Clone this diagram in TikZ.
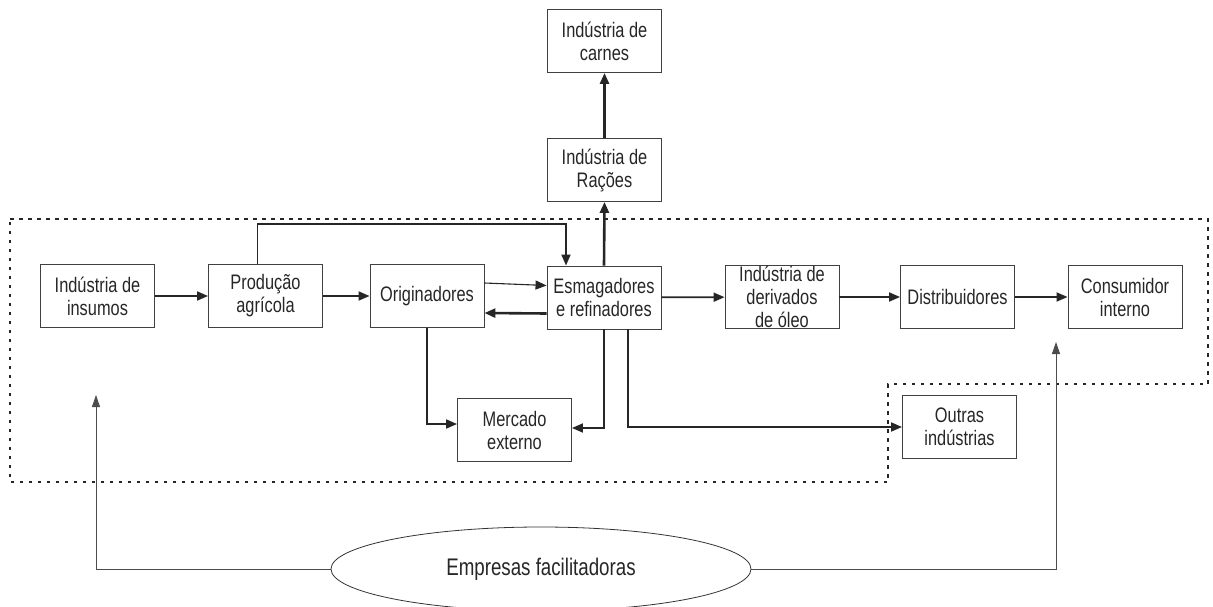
\documentclass[tikz,border=0pt]{standalone}
\usepackage{fontspec}
\setmainfont{Liberation Sans}[FakeStretch=0.78]
\usepackage{xcolor}
\usetikzlibrary{arrows.meta, positioning, shapes.geometric}

\begin{document}
\begin{tikzpicture}[
  x=1pt, y=-1pt,
  font=\fontsize{21}{23}\selectfont,
  color=black!85,
  box/.style={
    rectangle,
    draw=black!75,
    line width=0.9pt,
    minimum width=114pt,
    minimum height=63pt,
    inner sep=1pt,
    align=center
  },
  flow/.style={
    -{Triangle[length=11pt,width=9pt]},
    line width=1.8pt
  },
  heavy/.style={
    flow,
    line width=2.6pt
  },
  light/.style={
    flow,
    line width=1.1pt
  },
  link/.style={
    -{Triangle[length=12pt,width=8pt]},
    line width=0.9pt,
    draw=black!70
  },
  border/.style={
    line width=2.6pt,
    dash pattern=on 3.5pt off 5.5pt
  }
]

\useasboundingbox (0,0) rectangle (1213,607);

% --- Chain boundary --------------------------------------------------

\draw[border] (10,219) -- (1208,219) -- (1208,384) -- (888,384)
  -- (888,482) -- (10,482) -- cycle;

% --- Main chain ------------------------------------------------------

\node[box] (insumos) at (97.5,296) {Indústria de\\insumos};
\node[box] (producao) at (265.5,296) {Produção\\agrícola};
\node[box] (orig) at (427,296) {Originadores};
\node[box] (esmag) at (604,297.5) {Esmagadores\\e refinadores};
\node[box, label={[align=center]center:{Indústria de\\derivados\\de óleo}}]
  (deriv) at (782,297) {};
\node[box] (distrib) at (957.5,297) {Distribuidores};
\node[box] (consum) at (1125,297) {Consumidor\\interno};

% --- Other destinations ----------------------------------------------

\node[box] (racoes) at (604.5,170) {Indústria de\\Rações};
\node[box] (carnes) at (604.5,41) {Indústria de\\carnes};
\node[box] (mercado) at (514.5,430) {Mercado\\externo};
\node[box] (outras) at (959.5,427) {Outras\\indústrias};

\node[ellipse, draw=black!80, line width=0.8pt, outer sep=0pt,
  minimum width=420pt, minimum height=84pt,
  font=\fontsize{24}{26}\selectfont] (facil) at (541,569)
  {Empresas facilitadoras};

% --- Flows -----------------------------------------------------------

\draw[flow] (insumos) -- (producao);
\draw[flow] (producao) -- (orig);
\draw[flow] (esmag) -- (deriv);
\draw[flow] (deriv) -- (distrib);
\draw[flow] (distrib) -- (consum);

% Producao sells directly to the crushers
\draw[flow] ([xshift=-8pt]producao.north) -- ++(0,-40)
  -| ([xshift=-38pt]esmag.north);

\draw[light] ([yshift=13pt]orig.east) -- ([yshift=12pt]esmag.west);
\draw[heavy] ([yshift=-16pt]esmag.west) -- ([yshift=-17pt]orig.east);

\draw[heavy] (esmag.north) -- (racoes.south);
\draw[heavy] (racoes.north) -- (carnes.south);

\draw[flow] (orig.south) |- ([yshift=6pt]mercado.west);
\draw[flow] (esmag.south) |- ([yshift=2pt]mercado.east);
\draw[flow] ([xshift=24pt]esmag.south) |- (outras.west);

% Support from the facilitating firms
\draw[link] (facil.west) -| (96,395);
\draw[link] (facil.east) -| (1056,342);

\end{tikzpicture}
\end{document}
